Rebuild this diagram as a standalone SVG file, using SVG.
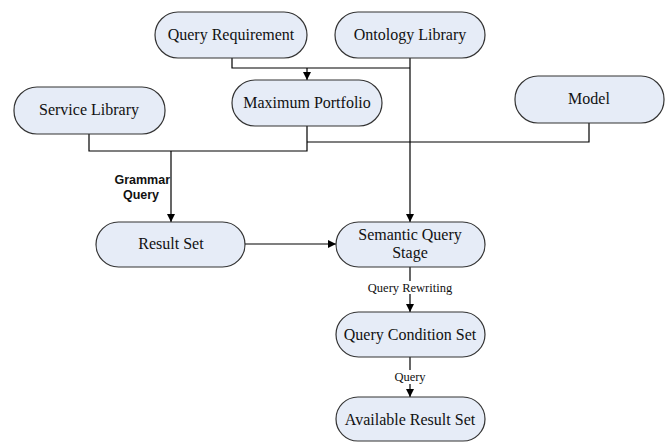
<svg xmlns="http://www.w3.org/2000/svg" width="670" height="442" viewBox="0 0 670 442">
<defs>
<style>
.n{fill:#E6ECF7;stroke:#333;stroke-width:1.2}
.t{font-family:"Liberation Serif","Times New Roman",serif;font-size:16px;fill:#111;text-anchor:middle}
.c{fill:none;stroke:#000;stroke-width:1.2}
.lb{font-family:"Liberation Serif","Times New Roman",serif;font-size:12.5px;fill:#111;text-anchor:middle}
.gb{font-family:"Liberation Sans",Arial,sans-serif;font-size:12.5px;font-weight:bold;fill:#111}
</style>
<marker id="ar" viewBox="0 0 10 10" refX="10" refY="5" markerWidth="8" markerHeight="8" markerUnits="userSpaceOnUse" orient="auto">
<path d="M0,0 L10,5 L0,10 Z" fill="#000"/>
</marker>
</defs>
<rect width="670" height="442" fill="#fff"/>
<g id="connectors">
<polyline class="c" points="232,58 232,68 410,68"/>
<line class="c" x1="307" y1="68" x2="307" y2="80" marker-end="url(#ar)"/>
<line class="c" x1="410" y1="58" x2="410" y2="222" marker-end="url(#ar)"/>
<polyline class="c" points="89,134 89,151 307,151 307,126"/>
<line class="c" x1="171" y1="151" x2="171" y2="222" marker-end="url(#ar)"/>
<polyline class="c" points="307,142 589,142 589,123"/>
<line class="c" x1="245" y1="244" x2="336" y2="244" marker-end="url(#ar)"/>
<line class="c" x1="410" y1="267" x2="410" y2="312" marker-end="url(#ar)"/>
<line class="c" x1="410" y1="357" x2="410" y2="397" marker-end="url(#ar)"/>
<rect x="364" y="281" width="92" height="13" fill="#fff"/>
<text class="lb" x="410" y="292">Query Rewriting</text>
<rect x="392" y="370" width="36" height="14" fill="#fff"/>
<text class="lb" x="410" y="381">Query</text>
<text class="gb" x="170" y="184" text-anchor="end">Grammar</text>
<text class="gb" x="141" y="199" text-anchor="middle">Query</text>
</g>
<g id="query-requirement"><rect class="n" x="155" y="12" width="152" height="46" rx="23"/><text class="t" x="231" y="40">Query Requirement</text></g>
<g id="ontology-library"><rect class="n" x="335" y="12" width="150" height="46" rx="23"/><text class="t" x="410" y="40">Ontology Library</text></g>
<g id="maximum-portfolio"><rect class="n" x="232" y="80" width="150" height="46" rx="23"/><text class="t" x="307" y="108">Maximum Portfolio</text></g>
<g id="service-library"><rect class="n" x="14" y="87" width="151" height="47" rx="23"/><text class="t" x="89" y="115">Service Library</text></g>
<g id="model"><rect class="n" x="515" y="76" width="149" height="47" rx="23"/><text class="t" x="589" y="104">Model</text></g>
<g id="result-set"><rect class="n" x="96" y="222" width="149" height="45" rx="22.5"/><text class="t" x="171" y="249">Result Set</text></g>
<g id="semantic-query-stage"><rect class="n" x="336" y="222" width="149" height="45" rx="22.5"/><text class="t" x="410" y="240">Semantic Query</text><text class="t" x="410" y="258">Stage</text></g>
<g id="query-condition-set"><rect class="n" x="336" y="312" width="149" height="45" rx="22.5"/><text class="t" x="410" y="340">Query Condition Set</text></g>
<g id="available-result-set"><rect class="n" x="336" y="397" width="149" height="44" rx="22"/><text class="t" x="410" y="425">Available Result Set</text></g>
</svg>
